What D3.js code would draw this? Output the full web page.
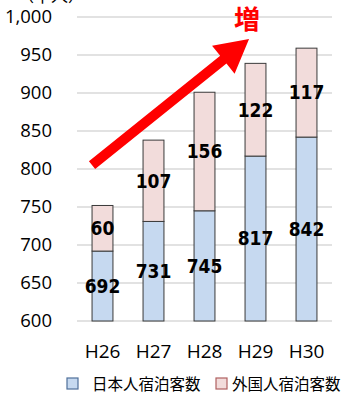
<!DOCTYPE html>
<html>
<head>
<meta charset="utf-8">
<script src="https://cdn.jsdelivr.net/npm/d3@7"></script>
<style>
  body { margin: 0; background: #fff; }
  svg { display: block; }
</style>
</head>
<body>
<div id="vis"></div>
<script>
// data
const years = ["H26", "H27", "H28", "H29", "H30"]
const japanese = [692, 731, 745, 817, 842]
const foreign = [60, 107, 156, 122, 117]
const yTicks = [600, 650, 700, 750, 800, 850, 900, 950, 1000]
const seriesNames = ["日本人宿泊客数", "外国人宿泊客数"]
const seriesColors = ["#c6d9f0", "#f2dcdb"]

const W = 342, H = 395
const svg = d3.select("#vis").append("svg").attr("width", W).attr("height", H)

const x = d3.scaleBand().domain(years).range([77, 332]).paddingInner(0.59).paddingOuter(0.295)
const y = d3.scaleLinear().domain([600, 1000]).range([321, 17])

const numFont = "'Open Sans', 'Noto Sans', sans-serif"
const cjkFont = "'Noto Sans CJK JP', sans-serif"

// gridlines
svg.append("g").selectAll("line").data(yTicks).join("line")
  .attr("x1", 77).attr("x2", 332)
  .attr("y1", d => y(d)).attr("y2", d => y(d))
  .attr("stroke", "#d9d9d9").attr("stroke-width", 1.5)

// y axis labels
const yAxis = d3.axisLeft(y).tickValues(yTicks).tickSize(0).tickPadding(0).tickFormat(d3.format(","))
svg.append("g").attr("transform", "translate(52,0)").call(yAxis)
  .call(g => g.select(".domain").remove())
  .selectAll("text").attr("font-family", numFont).attr("font-size", 18.5).attr("fill", "#000")

// unit label (cut off at the top, as in the source)
svg.append("text").attr("x", 51).attr("y", 2).attr("text-anchor", "middle")
  .attr("font-family", cjkFont).attr("font-size", 17).text("（千人）")

// x axis labels
const xAxis = d3.axisBottom(x).tickSize(0).tickPadding(0)
svg.append("g").attr("transform", "translate(0,344)").call(xAxis)
  .call(g => g.select(".domain").remove())
  .selectAll("text").attr("font-family", numFont).attr("font-size", 19).attr("fill", "#000")

// stacked bars
const rows = years.map((yr, i) => ({ year: yr, japanese: japanese[i], foreign: foreign[i] }))
const stack = d3.stack().keys(["japanese", "foreign"])
const layers = stack(rows)

const barGroups = svg.append("g").selectAll("g").data(layers).join("g")
  .attr("fill", (d, i) => seriesColors[i])

barGroups.selectAll("rect").data(d => d).join("rect")
  .attr("x", d => x(d.data.year))
  .attr("y", d => y(d[1]))
  .attr("width", x.bandwidth())
  .attr("height", d => y(Math.max(d[0], 600)) - y(d[1]))
  .attr("stroke", "#3a3a3a").attr("stroke-width", 1)

// value labels
barGroups.selectAll("text").data(d => d).join("text")
  .attr("x", d => x(d.data.year) + x.bandwidth() / 2)
  .attr("y", d => (y(Math.max(d[0], 600)) + y(d[1])) / 2)
  .attr("dy", "0.36em")
  .attr("text-anchor", "middle")
  .attr("font-family", "'DejaVu Sans', sans-serif")
  .attr("font-stretch", "condensed")
  .attr("font-weight", "bold").attr("font-size", 19)
  .attr("fill", "#000")
  .text(d => d[1] - d[0])

// red arrow annotation
const x0 = x("H26"), y0 = y(805)
const x1 = x("H29") + 4, y1 = y(971)
const ang = Math.atan2(y1 - y0, x1 - x0)
const len = Math.hypot(x1 - x0, y1 - y0)
const shaft = 5, headW = 18, headL = 33
const pts = [[0, -shaft], [len - headL, -shaft], [len - headL, -headW], [len, 0],
             [len - headL, headW], [len - headL, shaft], [0, shaft]]
svg.append("polygon")
  .attr("points", pts.map(p => p.join(",")).join(" "))
  .attr("transform", `translate(${x0},${y0}) rotate(${ang * 180 / Math.PI})`)
  .attr("fill", "#ff0000")

svg.append("text").attr("x", x("H29") + 2).attr("y", y(1000) + 12)
  .attr("text-anchor", "middle")
  .attr("font-family", cjkFont).attr("font-weight", "bold").attr("font-size", 26)
  .attr("fill", "#ff0000").text("増")

// legend
const legend = svg.append("g").selectAll("g").data(seriesNames).join("g")
  .attr("transform", (d, i) => `translate(${i ? 216 : 67},378)`)
legend.append("rect").attr("width", 11).attr("height", 11)
  .attr("fill", (d, i) => seriesColors[i]).attr("stroke", (d, i) => i ? "#b06060" : "#4f6f9a").attr("stroke-width", 1.2)
legend.append("text").attr("x", (d, i) => i ? 16 : 25).attr("y", 6).attr("dy", "0.36em")
  .attr("font-family", cjkFont).attr("font-size", 15.5).attr("fill", "#000")
  .text(d => d)
</script>
</body>
</html>
